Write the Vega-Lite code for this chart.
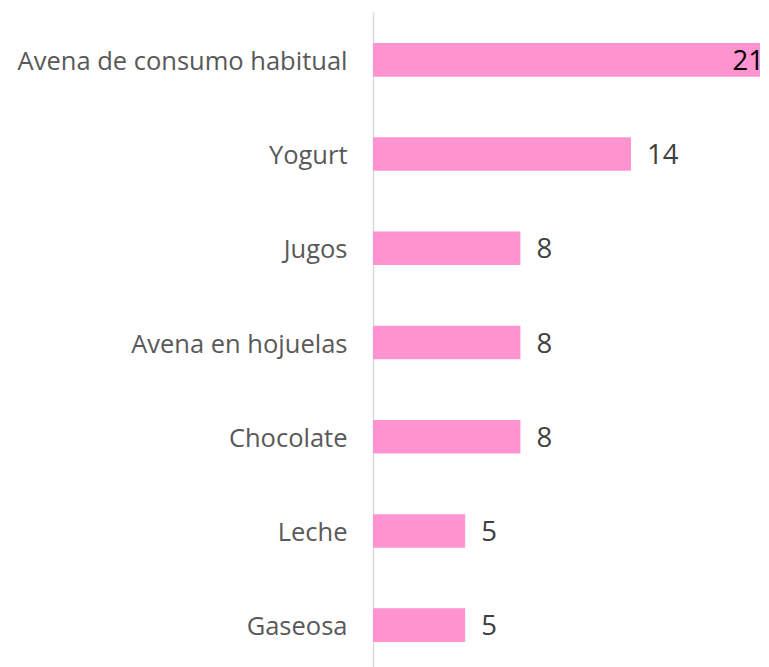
{
  "$schema": "https://vega.github.io/schema/vega-lite/v6.json",
  "width": 387,
  "height": 661,
  "autosize": {"type": "none"},
  "padding": {"left": 373, "top": 12, "right": 9, "bottom": 0},
  "background": "white",
  "config": {"view": {"stroke": null}},
  "data": {
    "values": [
      {"categoria": "Avena de consumo habitual", "valor": 21},
      {"categoria": "Yogurt", "valor": 14},
      {"categoria": "Jugos", "valor": 8},
      {"categoria": "Avena en hojuelas", "valor": 8},
      {"categoria": "Chocolate", "valor": 8},
      {"categoria": "Leche", "valor": 5},
      {"categoria": "Gaseosa", "valor": 5}
    ]
  },
  "encoding": {
    "y": {
      "field": "categoria",
      "type": "nominal",
      "sort": null,
      "scale": {"paddingInner": 0.644, "paddingOuter": 0.33},
      "axis": {
        "title": null,
        "ticks": false,
        "domainColor": "#D9D9D9",
        "domainWidth": 1.5,
        "labelColor": "#595959",
        "labelFont": "Open Sans",
        "labelFontSize": 25.5,
        "labelPadding": 26,
        "labelOffset": 2,
        "labelLimit": 400,
        "grid": false
      }
    },
    "x": {
      "field": "valor",
      "type": "quantitative",
      "scale": {"domain": [0, 21], "nice": false, "zero": true},
      "axis": null
    }
  },
  "layer": [
    {"mark": {"type": "bar", "color": "#FF94D1", "cornerRadius": 0}},
    {
      "transform": [{"filter": "datum.valor < 20"}],
      "mark": {"type": "text", "align": "left", "baseline": "middle", "dx": 16, "dy": 2, "font": "Open Sans", "fontSize": 27.5, "color": "#404040"},
      "encoding": {"text": {"field": "valor", "type": "quantitative"}}
    },
    {
      "transform": [{"filter": "datum.valor >= 20"}],
      "mark": {"type": "text", "align": "right", "baseline": "middle", "dx": 4, "dy": 2, "font": "Open Sans", "fontSize": 27.5, "color": "#000000"},
      "encoding": {"text": {"field": "valor", "type": "quantitative"}}
    }
  ]
}
